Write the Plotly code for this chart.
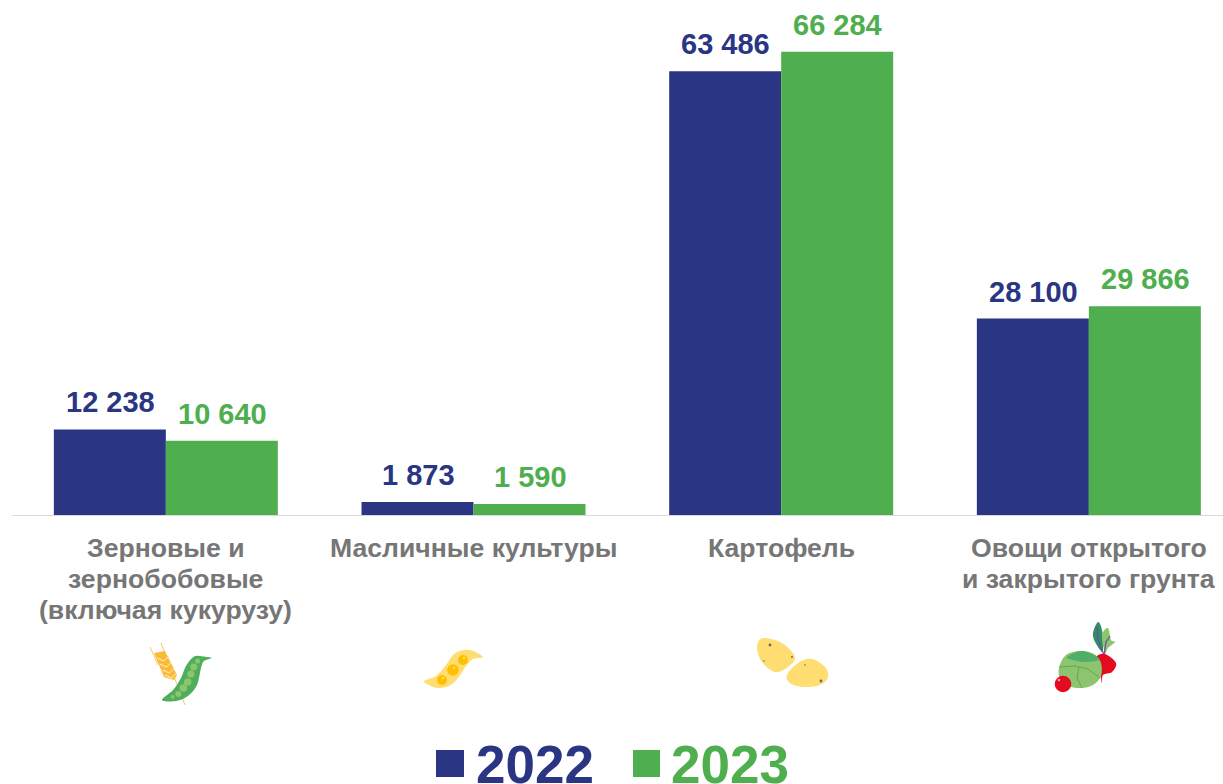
import plotly.graph_objects as go

categories = ["Зерновые и<br>зернобобовые<br>(включая кукурузу)", "Масличные культуры", "Картофель", "Овощи открытого<br>и закрытого грунта"]
values_2022 = [12238, 1873, 63486, 28100]
values_2023 = [10640, 1590, 66284, 29866]
labels_2022 = ["12 238", "1 873", "63 486", "28 100"]
labels_2023 = ["10 640", "1 590", "66 284", "29 866"]
NAVY, GREEN = "#2A3583", "#4FAE4E"
W, H, L, BASE = 1223, 784, 12, 515

def X(p): return (p - L) / (W - L)
def Y(p): return (BASE - p) / BASE

def smooth(pts):
    """closed Catmull-Rom curve, pixel points -> paper path"""
    n = len(pts)
    d = f"M {X(pts[0][0]):.5f},{Y(pts[0][1]):.5f}"
    for i in range(n):
        p0, p1, p2, p3 = pts[i - 1], pts[i], pts[(i + 1) % n], pts[(i + 2) % n]
        c1 = (p1[0] + (p2[0] - p0[0]) / 6, p1[1] + (p2[1] - p0[1]) / 6)
        c2 = (p2[0] - (p3[0] - p1[0]) / 6, p2[1] - (p3[1] - p1[1]) / 6)
        d += f" C {X(c1[0]):.5f},{Y(c1[1]):.5f} {X(c2[0]):.5f},{Y(c2[1]):.5f} {X(p2[0]):.5f},{Y(p2[1]):.5f}"
    return d + " Z"

def poly(pts, close=True):
    d = "M " + " L ".join(f"{X(a):.5f},{Y(b):.5f}" for a, b in pts)
    return d + (" Z" if close else "")

shapes = []
def fill(path, color): shapes.append(dict(type="path", xref="paper", yref="paper", path=path, fillcolor=color, line=dict(width=0), layer="above"))
def stroke(pts, color, w=1): shapes.append(dict(type="path", xref="paper", yref="paper", path=poly(pts, False), line=dict(color=color, width=w), layer="above"))
def circ(x, y, r, color): shapes.append(dict(type="circle", xref="paper", yref="paper", x0=X(x - r), x1=X(x + r), y0=Y(y + r), y1=Y(y - r), fillcolor=color, line=dict(width=0), layer="above"))

# wheat + pea pod
stroke([(161, 643), (185, 705)], "#FFC94F", 1)
stroke([(150, 647), (158, 665)], "#FFC94F", 1)
fill(poly([(154, 653), (165, 651), (177, 675), (174, 680), (164, 677)]), "#FBBA3A")
for y0 in (658, 664, 670, 675):
    stroke([(157 + (y0 - 658) * .45, y0), (164 + (y0 - 658) * .45, y0 + 3), (169 + (y0 - 658) * .45, y0 - 2)], "#FFF0C8", 1)
fill(smooth([(211.5, 658), (203, 656.5), (194, 656.5), (186, 666), (181, 678), (173, 690), (162, 700), (176, 701), (188, 696), (197, 685), (201, 668), (204, 661)]), "#4FAE5B")
for x, y, r in [(197.6, 661, 2.5), (193.7, 667, 3.5), (190.9, 674, 3.5), (187.7, 682, 3.8), (183.4, 688, 3.8), (178.3, 694, 3), (172.7, 697, 2)]:
    circ(x, y, r, "#8CC56E")
# soy pod
fill(smooth([(424, 681), (436, 676), (446, 665), (454, 654), (464, 650), (473, 651), (483, 657), (473, 659), (466, 666), (458, 678), (449, 686), (438, 688), (431, 686)]), "#FFDD71")
for x, y, r in [(463, 660, 5), (453, 670, 5.8), (442, 680, 5)]:
    circ(x, y, r, "#FFC000")
    circ(x + 1, y - 2, 1, "#FFE9A8")
# potatoes
fill(smooth([(757, 647), (763, 638), (782, 643), (795, 657), (788, 667), (775, 672), (762, 662)]), "#FFDD71")
fill(smooth([(787, 675), (798, 663), (812, 659), (825, 667), (828, 677), (820, 685), (803, 687), (790, 683)]), "#FFDD71")
for x, y, r in [(770, 645, 1.4), (792, 657, 1), (764, 661, .8), (805, 665, .8), (821, 681, 1.4)]:
    circ(x, y, r, "#6B6B5A")
# vegetables
fill(smooth([(1093, 633), (1098, 622), (1102, 630), (1103, 647), (1102, 652), (1095, 642)]), "#2F9068")
fill(smooth([(1102, 635), (1108, 628), (1111, 640), (1115, 642), (1108, 648), (1105, 653)]), "#8CC56E")
stroke([(1097, 627), (1098, 640), (1104, 655)], "#6A4C9C", 1.2)
stroke([(1104, 655), (1106, 642), (1110, 636)], "#6A4C9C", 1.2)
fill(smooth([(1096, 657), (1105, 654), (1116, 663), (1112, 672), (1103, 675), (1102, 683), (1100, 674), (1096, 668)]), "#E30B1F")
fill(smooth([(1059, 668), (1066, 655), (1081, 651), (1094, 654), (1101, 663), (1101, 676), (1093, 685), (1081, 688), (1068, 686), (1060, 678)]), "#8CC56E")
fill(smooth([(1067, 657), (1081, 651), (1094, 655), (1099, 660), (1084, 662), (1073, 660)]), "#4FAE6A")
stroke([(1059, 667), (1075, 666), (1088, 669), (1100, 678)], "#5FA85A", 1)
stroke([(1079, 667), (1077, 678), (1082, 688)], "#5FA85A", 1)
circ(1063, 684, 8.3, "#E30B1F")
circ(1059, 680, 1.3, "#F7A6AE")

# legend squares
shapes.append(dict(type="rect", xref="paper", yref="paper", x0=X(436), x1=X(464), y0=Y(777), y1=Y(750), fillcolor=NAVY, line=dict(width=0)))
shapes.append(dict(type="rect", xref="paper", yref="paper", x0=X(633), x1=X(660), y0=Y(777), y1=Y(750), fillcolor=GREEN, line=dict(width=0)))

FONT = "Liberation Sans"
fig = go.Figure()
annotations = [
    dict(text="<b>2022</b>", x=X(474), y=Y(764), xref="paper", yref="paper", xanchor="left", yanchor="middle", showarrow=False,
         font=dict(family=FONT, size=53, color=NAVY)),
    dict(text="<b>2023</b>", x=X(669), y=Y(764), xref="paper", yref="paper", xanchor="left", yanchor="middle", showarrow=False,
         font=dict(family=FONT, size=53, color=GREEN)),
]
for name, vals, labs, col, dx in [("2022", values_2022, labels_2022, NAVY, -55.5), ("2023", values_2023, labels_2023, GREEN, 56.5)]:
    fig.add_bar(name=name, x=categories, y=vals, marker=dict(color=col, line=dict(width=0)), hoverinfo="x+y")
    for c, v, t in zip(categories, vals, labs):
        annotations.append(dict(text=f"<b>{t}</b>", x=c, y=v, xref="x", yref="y", xshift=dx, yshift=27, xanchor="center",
                                yanchor="middle", showarrow=False, font=dict(family=FONT, size=29, color=col)))
for c in categories:
    for i, line in enumerate(c.split("<br>")):
        annotations.append(dict(text=f"<b>{line}</b>", x=c, y=0, xref="x", yref="y", yshift=-33 - 31 * i, xanchor="center",
                                yanchor="middle", showarrow=False, font=dict(family=FONT, size=26.6, color="#767676")))

fig.update_layout(
    width=W, height=H, barmode="group", bargap=0.272, bargroupgap=0, showlegend=False,
    margin=dict(l=L, r=0, t=0, b=H - BASE), paper_bgcolor="white", plot_bgcolor="white",
    font=dict(family=FONT), shapes=shapes, annotations=annotations,
    xaxis=dict(range=[-0.5, 3.436], showline=True, linecolor="#D9D9D9", linewidth=1, ticks="", showgrid=False, zeroline=False,
               showticklabels=False),
    yaxis=dict(range=[0, 73680], visible=False, showgrid=False, zeroline=False),
)
fig.write_html("out.html", config=dict(displayModeBar=False), post_script="document.body.style.margin='0';")
